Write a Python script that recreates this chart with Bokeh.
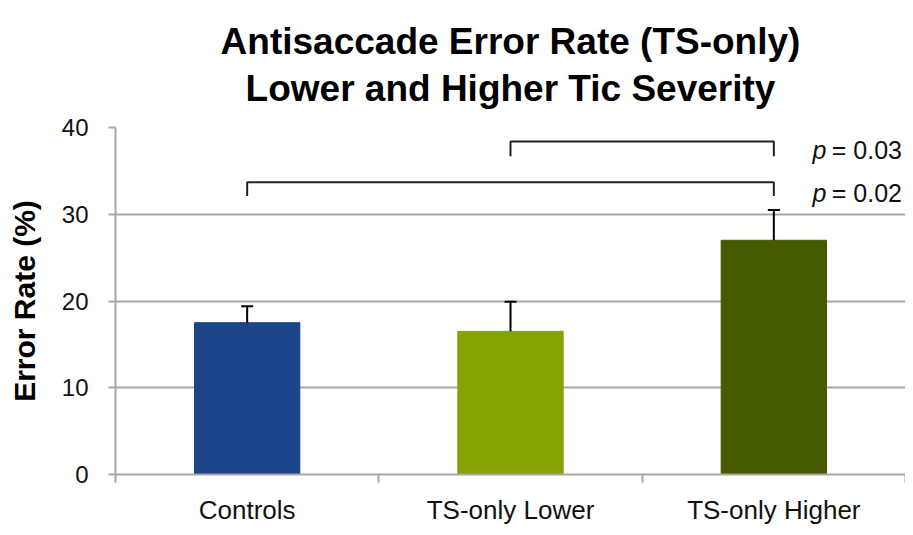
from bokeh.plotting import figure
from bokeh.models import Range1d, FixedTicker, Whisker, TeeHead, ColumnDataSource, Label, Title
from bokeh.embed import file_html
from bokeh.resources import INLINE

# ---- data ----
categories = ["Controls", "TS-only Lower", "TS-only Higher"]
error_rate = [17.5, 16.5, 27.0]
error_sem = [1.9, 3.4, 3.5]
bar_colors = ["#1B448A", "#84A200", "#465B00"]
y_ticks = [0, 10, 20, 30, 40]
title_lines = ["Antisaccade Error Rate (TS-only)", "Lower and Higher Tic Severity"]

# significance brackets
bracket_from = [1, 0]          # group index
bracket_to = [2, 2]            # group index
bracket_top = [38.4, 33.7]
bracket_bottom = [36.7, 32.1]
p_values = ["0.03", "0.02"]
p_label_y = [37.4, 32.5]

FONT = "Liberation Sans"
GRID = "#a6a6a6"
Y_MAX = 40

xs = [i + 0.5 for i in range(len(categories))]

p = figure(width=905, height=527, output_backend="svg", toolbar_location=None,
           title=None, x_range=Range1d(0, len(categories)), y_range=Range1d(0, Y_MAX),
           min_border_left=115, min_border_right=0, min_border_bottom=52, min_border_top=127)
p.outline_line_color = None
p.background_fill_color = "white"

# two-line title (one title, centred lines)
title = Title(text="\n".join(title_lines), align="center", text_font=FONT,
              text_font_size="37px", text_font_style="bold", text_color="black",
              text_line_height=1.15, standoff=37)
try:
    title.text_align = "center"
except Exception:
    pass
p.add_layout(title, "above")

# grid
p.xgrid.visible = False
p.ygrid.ticker = FixedTicker(ticks=y_ticks)
p.ygrid.grid_line_color = GRID
p.ygrid.grid_line_width = 2

# y axis
p.yaxis.ticker = FixedTicker(ticks=y_ticks)
p.yaxis.axis_label = "Error Rate (%)"
p.yaxis.axis_label_text_font = FONT
p.yaxis.axis_label_text_font_size = "30px"
p.yaxis.axis_label_text_font_style = "bold"
p.yaxis.axis_label_text_color = "black"
p.yaxis.axis_label_standoff = 18
p.yaxis.major_label_text_font = FONT
p.yaxis.major_label_text_font_size = "24px"
p.yaxis.major_label_text_color = "#111111"
p.yaxis.major_label_standoff = 20
p.yaxis.major_tick_out = 7
p.yaxis.major_tick_in = 0
p.yaxis.minor_tick_out = 0
p.yaxis.minor_tick_in = 0
p.yaxis.axis_line_color = GRID
p.yaxis.axis_line_width = 2
p.yaxis.major_tick_line_color = GRID
p.yaxis.major_tick_line_width = 2

# x axis: labels at group centres, ticks at group boundaries
p.xaxis.ticker = FixedTicker(ticks=xs, minor_ticks=list(range(len(categories) + 1)))
p.xaxis.major_label_overrides = {x: c for x, c in zip(xs, categories)}
p.xaxis.major_label_text_font = FONT
p.xaxis.major_label_text_font_size = "26px"
p.xaxis.major_label_text_color = "#111111"
p.xaxis.major_label_standoff = 12
p.xaxis.major_tick_out = 0
p.xaxis.major_tick_in = 0
p.xaxis.minor_tick_out = 8
p.xaxis.minor_tick_in = 0
p.xaxis.minor_tick_line_color = GRID
p.xaxis.minor_tick_line_width = 2
p.xaxis.axis_line_color = GRID
p.xaxis.axis_line_width = 2

# bars
src = ColumnDataSource(dict(x=xs, top=error_rate,
                            upper=[v + e for v, e in zip(error_rate, error_sem)],
                            color=bar_colors))
p.vbar(x="x", top="top", bottom=0, width=0.4, fill_color="color", line_color="color",
       source=src)

# error bars (upper only)
p.add_layout(Whisker(base="x", lower="top", upper="upper", source=src, dimension="height",
                     line_color="black", line_width=2, lower_head=None,
                     upper_head=TeeHead(size=12, line_color="black", line_width=2),
                     level="overlay"))

# significance brackets
for f, t, top, bot, pv, py in zip(bracket_from, bracket_to, bracket_top, bracket_bottom,
                                   p_values, p_label_y):
    x0, x1 = xs[f], xs[t]
    p.line([x0, x0, x1, x1], [bot, top, top, bot], line_color="#222222", line_width=2)
    p.add_layout(Label(x=2.647, y=py, text="p", text_font=FONT, text_font_size="25px",
                       text_font_style="italic", text_color="#111111",
                       text_baseline="middle", text_align="left"))
    p.add_layout(Label(x=2.72, y=py, text="= " + pv, text_font=FONT, text_font_size="25px",
                       text_color="#111111", text_baseline="middle", text_align="left"))

open("out.html", "w").write(file_html(p, INLINE))
